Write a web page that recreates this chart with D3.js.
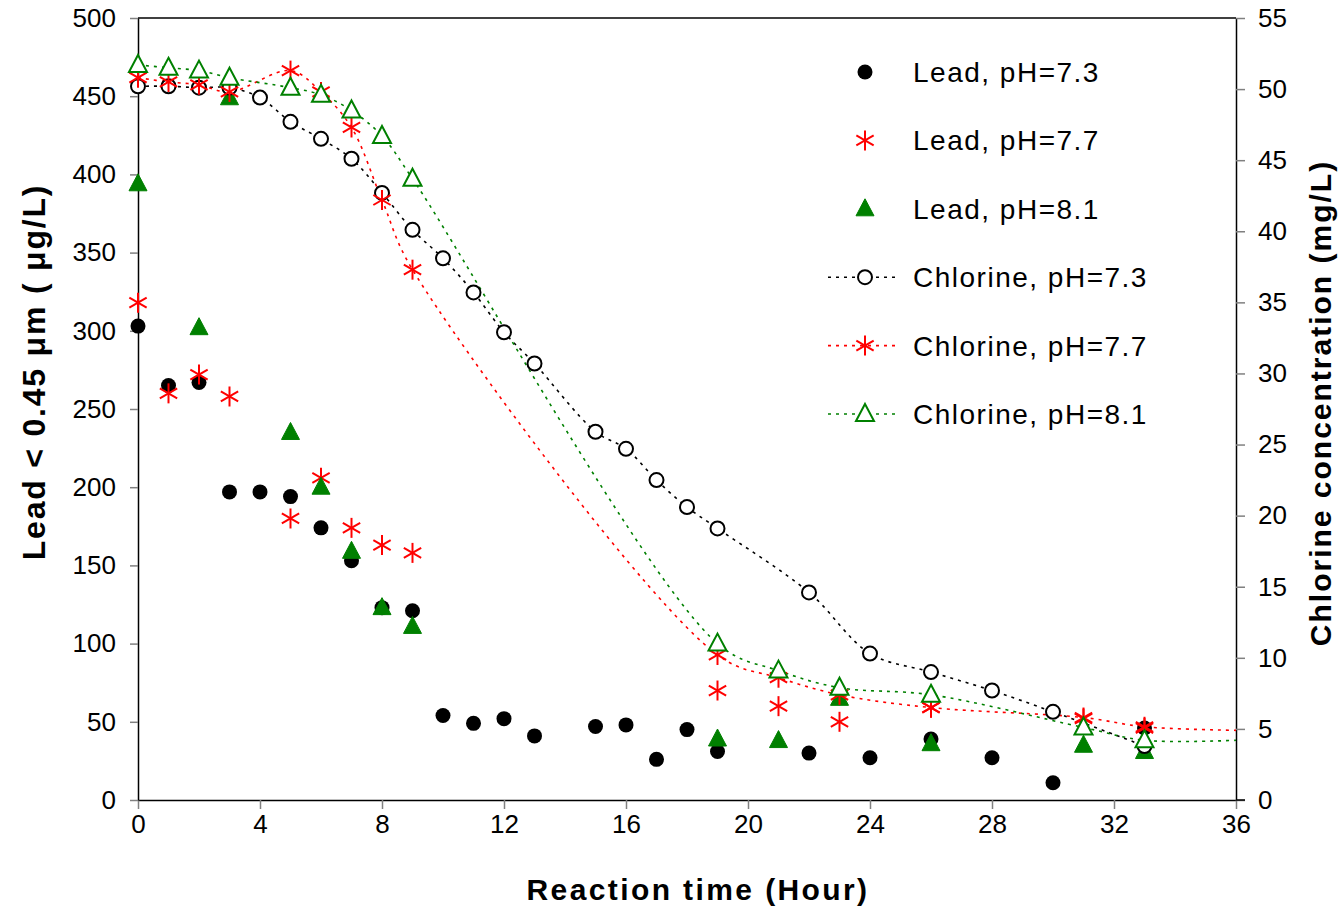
<!DOCTYPE html>
<html>
<head>
<meta charset="utf-8">
<script src="https://cdn.jsdelivr.net/npm/d3@7"></script>
<style>
  body { margin: 0; background: #fff; }
  text { font-family: "Liberation Sans", Arial, sans-serif; }
</style>
</head>
<body>
<div id="chart"></div>
<script>
// Lead (ug/L), left axis
const leadTime73 = [0, 1, 2, 3, 4, 5, 6, 7, 8, 9, 10, 11, 12, 13, 15, 16, 17, 18, 19, 22, 24, 26, 28, 30, 33];
const leadPH73 = [303, 265, 267, 197, 197, 194, 174, 153, 123, 121, 54, 49, 52, 41, 47, 48, 26, 45, 31, 30, 27, 39, 27, 11, 46];

const leadTime77 = [0, 1, 2, 3, 5, 6, 7, 8, 9, 19, 21, 23, 26, 31, 33];
const leadPH77 = [318, 260, 272, 258, 180, 206, 174, 163, 158, 70, 60, 50, 59, 52, 46];

const leadTime81 = [0, 2, 3, 5, 6, 7, 8, 9, 19, 21, 23, 26, 31, 33];
const leadPH81 = [394, 302, 449, 235, 200, 159, 123, 111, 39, 38, 65, 36, 35, 31];

// Chlorine (mg/L), right axis
const clTime73 = [0, 1, 2, 3, 4, 5, 6, 7, 8, 9, 10, 11, 12, 13, 15, 16, 17, 18, 19, 22, 24, 26, 28, 30, 33];
const clPH73 = [50.2, 50.2, 50.1, 50.1, 49.4, 47.7, 46.5, 45.1, 42.7, 40.1, 38.1, 35.7, 32.9, 30.7, 25.9, 24.7, 22.5, 20.6, 19.1, 14.6, 10.3, 9.0, 7.7, 6.2, 3.8];

// last point (36) has no marker, the curve just runs into the right axis
const clTime77 = [0, 1, 2, 3, 5, 6, 7, 8, 9, 19, 21, 23, 26, 31, 33, 36];
const clPH77 = [50.8, 50.5, 50.3, 49.8, 51.3, 49.8, 47.3, 42.2, 37.3, 10.2, 8.6, 7.4, 6.5, 5.8, 5.15, 4.9];

const clTime81 = [0, 1, 2, 3, 5, 6, 7, 8, 9, 19, 21, 23, 26, 31, 33, 36];
const clPH81 = [51.7, 51.5, 51.3, 50.8, 50.1, 49.6, 48.5, 46.7, 43.7, 11.0, 9.1, 7.9, 7.4, 5.1, 4.2, 4.2];

const xTicks = [0, 4, 8, 12, 16, 20, 24, 28, 32, 36];
const leftTicks = [0, 50, 100, 150, 200, 250, 300, 350, 400, 450, 500];
const rightTicks = [0, 5, 10, 15, 20, 25, 30, 35, 40, 45, 50, 55];

const legendLabels = ["Lead, pH=7.3", "Lead, pH=7.7", "Lead, pH=8.1",
                      "Chlorine, pH=7.3", "Chlorine, pH=7.7", "Chlorine, pH=8.1"];

const W = 1342, H = 912;
const margin = { top: 18, right: 106, bottom: 112, left: 138 };
const width = W - margin.left - margin.right;
const height = H - margin.top - margin.bottom;

const svg = d3.select("#chart").append("svg")
    .attr("width", W)
    .attr("height", H);

const g = svg.append("g")
    .attr("transform", "translate(" + margin.left + "," + margin.top + ")");

const x = d3.scaleLinear().domain([0, 36]).range([0, width]);
const yL = d3.scaleLinear().domain([0, 500]).range([height, 0]);
const yR = d3.scaleLinear().domain([0, 55]).range([height, 0]);

const GREEN = "#008000", RED = "#ff0000";

// axes
function styleAxis(sel) {
    sel.select(".domain").attr("stroke", "#000").attr("stroke-width", 1.5);
    sel.selectAll(".tick line").attr("stroke", "#808080").attr("stroke-width", 1.5);
    sel.selectAll(".tick text").attr("fill", "#000")
        .style("font-size", "26px").style("font-family", "'Liberation Sans', Arial, sans-serif");
}

g.append("g")
    .attr("transform", "translate(0," + height + ")")
    .call(d3.axisBottom(x).tickValues(xTicks).tickSize(9).tickSizeOuter(0).tickPadding(6))
    .call(styleAxis);

g.append("g")
    .call(d3.axisLeft(yL).tickValues(leftTicks).tickSize(8).tickSizeOuter(0).tickPadding(14))
    .call(styleAxis);

g.append("g")
    .attr("transform", "translate(" + width + ",0)")
    .call(d3.axisRight(yR).tickValues(rightTicks).tickSize(9).tickSizeOuter(0).tickPadding(13))
    .call(styleAxis);

// top border + bottom line extension to the right tick
g.append("line").attr("x1", 0).attr("x2", width).attr("y1", 0).attr("y2", 0)
    .attr("stroke", "#000").attr("stroke-width", 1.5);
g.append("line").attr("x1", width).attr("x2", width + 9).attr("y1", height).attr("y2", height)
    .attr("stroke", "#000").attr("stroke-width", 1.5);

// axis titles
svg.append("text")
    .attr("transform", "translate(45," + 372 + ") rotate(-90)")
    .attr("text-anchor", "middle")
    .style("font-size", "32px").style("font-weight", "bold")
    .style("letter-spacing", "1.8px")
    .text("Lead < 0.45 \u03bcm ( \u03bcg/L)");

svg.append("text")
    .attr("x", 698)
    .attr("y", 900)
    .attr("text-anchor", "middle")
    .style("font-size", "30px").style("font-weight", "bold")
    .style("letter-spacing", "2.4px")
    .text("Reaction time (Hour)");

svg.append("text")
    .attr("transform", "translate(1331," + 403 + ") rotate(-90)")
    .attr("text-anchor", "middle")
    .style("font-size", "30px").style("font-weight", "bold")
    .style("letter-spacing", "2px")
    .text("Chlorine concentration (mg/L)");

// marker drawing helpers
function dot(sel, fill) {
    sel.append("circle").attr("r", 7.5).attr("fill", fill);
}
function ring(sel) {
    sel.append("circle").attr("r", 7).attr("fill", "#fff").attr("stroke", "#000").attr("stroke-width", 2);
}
function tri(sel, filled) {
    sel.append("path")
        .attr("d", "M0,-10L9,7L-9,7Z")
        .attr("fill", filled ? GREEN : "#fff")
        .attr("stroke", GREEN).attr("stroke-width", filled ? 1 : 2);
}
function star(sel) {
    const r = 10;
    [90, 30, 150].forEach(a => {
        const dx = r * Math.cos(a * Math.PI / 180), dy = r * Math.sin(a * Math.PI / 180);
        sel.append("line")
            .attr("x1", -dx).attr("y1", -dy).attr("x2", dx).attr("y2", dy)
            .attr("stroke", RED).attr("stroke-width", 2);
    });
}

function zip(ts, vs) { return ts.map((t, i) => ({ t: t, v: vs[i] })); }

// chlorine curves
const chlorine = [
    { data: zip(clTime73, clPH73), color: "#000", marker: ring },
    { data: zip(clTime77, clPH77), color: RED, marker: star },
    { data: zip(clTime81, clPH81), color: GREEN, marker: s => tri(s, false) }
];

const line = d3.line()
    .x(d => x(d.t))
    .y(d => yR(d.v))
    .curve(d3.curveCatmullRom.alpha(0.5));

chlorine.forEach(s => {
    g.append("path")
        .attr("d", line(s.data))
        .attr("fill", "none")
        .attr("stroke", s.color)
        .attr("stroke-width", 1.6)
        .attr("stroke-dasharray", "3,5");
});

// lead points
const lead = [
    { data: zip(leadTime73, leadPH73), marker: s => dot(s, "#000") },
    { data: zip(leadTime77, leadPH77), marker: star },
    { data: zip(leadTime81, leadPH81), marker: s => tri(s, true) }
];

lead.forEach(s => {
    g.append("g").selectAll("g")
        .data(s.data)
        .enter().append("g")
        .attr("transform", d => "translate(" + x(d.t) + "," + yL(d.v) + ")")
        .each(function () { s.marker(d3.select(this)); });
});

chlorine.forEach(s => {
    g.append("g").selectAll("g")
        .data(s.data.filter(d => d.t < 36))
        .enter().append("g")
        .attr("transform", d => "translate(" + x(d.t) + "," + yR(d.v) + ")")
        .each(function () { s.marker(d3.select(this)); });
});

// legend
const legendMarkers = [
    s => dot(s, "#000"), star, s => tri(s, true),
    ring, star, s => tri(s, false)
];
const legendLines = [null, null, null, "#000", RED, GREEN];

const legend = svg.append("g").attr("transform", "translate(865,72)");
legendLabels.forEach((lab, i) => {
    const row = legend.append("g").attr("transform", "translate(0," + (i * 68.4) + ")");
    if (legendLines[i]) {
        row.append("line").attr("x1", -37).attr("x2", 35).attr("y1", 0).attr("y2", 0)
            .attr("stroke", legendLines[i]).attr("stroke-width", 1.6)
            .attr("stroke-dasharray", "3,5");
    }
    legendMarkers[i](row);
    row.append("text")
        .attr("x", 48).attr("y", 10)
        .style("font-size", "28px")
        .style("letter-spacing", "1.5px")
        .text(lab);
});
</script>
</body>
</html>
